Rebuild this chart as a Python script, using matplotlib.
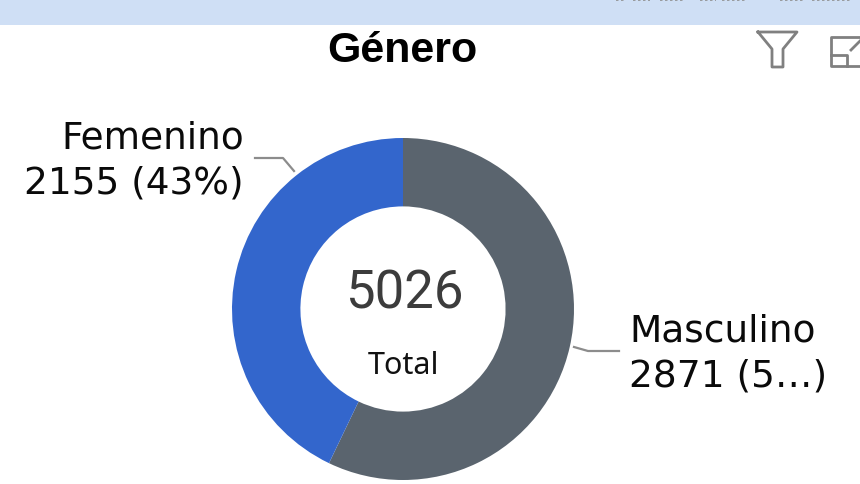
import matplotlib
matplotlib.use("AGG")
import matplotlib.pyplot as plt
from matplotlib.patches import Rectangle

labels = ["Masculino", "Femenino"]
values = [2871, 2155]
colors = ["#5a646e", "#3366cc"]
total = "5026"
title = "Género"
label_femenino = "Femenino\n2155 (43%)"
label_masculino = "Masculino\n2871 (5…)"

plt.rcParams["font.family"] = ["DejaVu Sans"]

fig = plt.figure(figsize=(8.6, 4.85), dpi=100)
ax = fig.add_axes([0, 0, 1, 1])
ax.set_xlim(0, 860)
ax.set_ylim(484, -1)
ax.axis("off")

# header strip
ax.add_patch(Rectangle((0, -1), 860, 26, color="#cfdff5", lw=0))
for x0, x1 in [(616, 626), (633, 650), (660, 685), (700, 716), (722, 745), (780, 805), (812, 850)]:
    ax.plot([x0, x1], [0, 0], color="#8f8f8f", lw=1.2, ls=(0, (1.5, 1.5)))

# pie needs a y-up axes, so it gets its own one over the donut
pie_ax = fig.add_axes([(403 - 171) / 860, (485 - 481) / 485, 342 / 860, 342 / 485])
pie_ax.pie(values, colors=colors, startangle=90, counterclock=False, radius=1,
           wedgeprops=dict(width=0.4, edgecolor="none"))
pie_ax.set_xlim(-1, 1)
pie_ax.set_ylim(-1, 1)

ax.text(402, 50, title, ha="center", va="center", fontsize=31, fontweight="bold", color="black",
        family="Liberation Sans")
ax.text(244, 160, label_femenino, ha="right", va="center", fontsize=27, color="#0a0a0a", linespacing=1.35)
ax.text(629, 353, label_masculino, ha="left", va="center", fontsize=27, color="#0a0a0a", linespacing=1.35)
ax.text(404, 293, total, ha="center", va="center", fontsize=38, color="#3c3c3c", family="Roboto")
ax.text(403, 365, "Total", ha="center", va="center", fontsize=22, color="#111111", family="Noto Sans")

# leader lines
ax.plot([255, 283, 294], [158, 158, 171], color="#8c8c8c", lw=1.6)
ax.plot([574, 588, 619], [347, 351, 351], color="#8c8c8c", lw=1.6)

# filter icon
ax.plot([758, 797, 783, 783, 772, 772, 758], [32, 32, 49, 67, 67, 49, 32], color="#808080", lw=2)
# expand icon, runs off the right edge
ax.plot([860, 831, 831, 860], [37, 37, 66, 66], color="#808080", lw=2)
ax.plot([831, 847, 847], [55, 55, 66], color="#808080", lw=2)
ax.plot([851, 860], [50, 41], color="#808080", lw=2)

fig.savefig("out.png", dpi=100)
